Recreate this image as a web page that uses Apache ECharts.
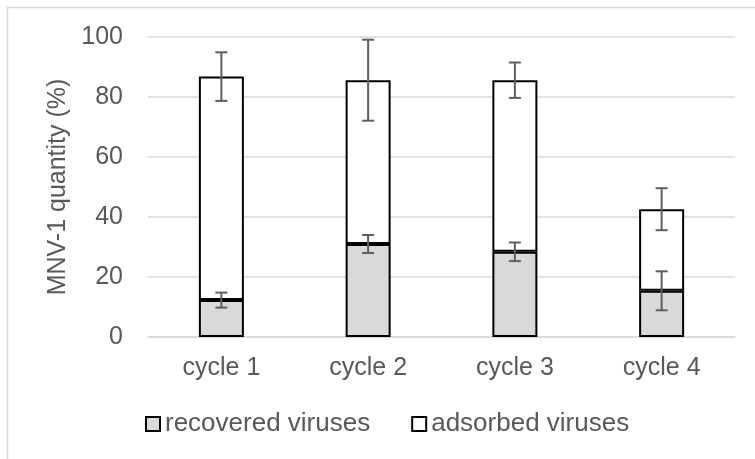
<!DOCTYPE html>
<html>
<head>
<meta charset="utf-8">
<script src="https://cdn.jsdelivr.net/npm/echarts@6/dist/echarts.min.js"></script>
<style>
    html, body { margin: 0; padding: 0; background: #fff; }
    #chart { width: 755px; height: 459px; }
</style>
</head>
<body>
<div id="chart"></div>
<script>
    // data
    const categories = ['cycle 1', 'cycle 2', 'cycle 3', 'cycle 4'];
    const recovered = [12.3, 31.0, 28.4, 15.4];
    const recoveredErr = [2.5, 3.0, 3.1, 6.5];
    const adsorbed = [74.5, 54.6, 57.2, 27.2];
    const adsorbedErr = [8.1, 13.5, 5.9, 7.0];
    const yTicks = [0, 20, 40, 60, 80, 100];

    const font = '"Liberation Sans", Arial, sans-serif';
    const textColor = '#595959';

    // error bars sit on top of each stack segment
    const recErrData = recovered.map((v, i) => [i, v, recoveredErr[i]]);
    const adsErrData = adsorbed.map((v, i) => [i, v + recovered[i], adsorbedErr[i]]);

    function renderErr(params, api) {
        const x = api.value(0);
        const y = api.value(1);
        const e = api.value(2);
        const top = api.coord([x, y + e]);
        const bot = api.coord([x, y - e]);
        const cap = 6;
        const st = { stroke: '#5f5f5f', lineWidth: 2 };
        return {
            type: 'group',
            children: [
                { type: 'line', shape: { x1: top[0], y1: top[1], x2: bot[0], y2: bot[1] }, style: st },
                { type: 'line', shape: { x1: top[0] - cap, y1: top[1], x2: top[0] + cap, y2: top[1] }, style: st },
                { type: 'line', shape: { x1: bot[0] - cap, y1: bot[1], x2: bot[0] + cap, y2: bot[1] }, style: st }
            ]
        };
    }

    const chart = echarts.init(document.getElementById('chart'));
    chart.setOption({
        animation: false,
        textStyle: { fontFamily: font },
        graphic: [{
            type: 'rect',
            shape: { x: 7.5, y: 7.5, width: 900, height: 600 },
            style: { fill: 'none', stroke: '#d9d9d9', lineWidth: 1.5 },
            silent: true
        }],
        grid: { left: 148, right: 20, top: 37, height: 300 },
        legend: {
            left: 145,
            top: 411,
            padding: 0,
            itemWidth: 14,
            itemHeight: 14,
            itemGap: 41,
            icon: 'rect',
            data: ['recovered viruses', 'adsorbed viruses'],
            textStyle: { fontSize: 26, color: textColor, fontFamily: font }
        },
        xAxis: {
            type: 'category',
            data: categories,
            axisTick: { show: false },
            axisLine: { lineStyle: { color: '#d9d9d9', width: 1.5 } },
            axisLabel: { fontSize: 25, color: textColor, margin: 19, fontFamily: font }
        },
        yAxis: {
            type: 'value',
            min: yTicks[0],
            max: yTicks[yTicks.length - 1],
            interval: 20,
            name: 'MNV-1 quantity (%)',
            nameLocation: 'middle',
            nameRotate: 90,
            nameGap: 76,
            nameTextStyle: { fontSize: 25, color: textColor, fontFamily: font },
            axisLine: { show: false },
            axisTick: { show: false },
            axisLabel: { fontSize: 25, color: textColor, margin: 25, fontFamily: font },
            splitLine: { lineStyle: { color: '#d9d9d9', width: 1.5 } }
        },
        series: [{
            name: 'recovered viruses',
            type: 'bar',
            stack: 'total',
            barWidth: 45,
            data: recovered,
            itemStyle: { color: '#d9d9d9', borderColor: '#000', borderWidth: 2 }
        }, {
            name: 'adsorbed viruses',
            type: 'bar',
            stack: 'total',
            barWidth: 45,
            data: adsorbed,
            itemStyle: { color: '#fff', borderColor: '#000', borderWidth: 2 }
        }, {
            type: 'custom',
            name: 'recErr',
            data: recErrData,
            renderItem: renderErr,
            encode: { x: 0, y: 1 },
            z: 10,
            silent: true
        }, {
            type: 'custom',
            name: 'adsErr',
            data: adsErrData,
            renderItem: renderErr,
            encode: { x: 0, y: 1 },
            z: 10,
            silent: true
        }]
    });
</script>
</body>
</html>
